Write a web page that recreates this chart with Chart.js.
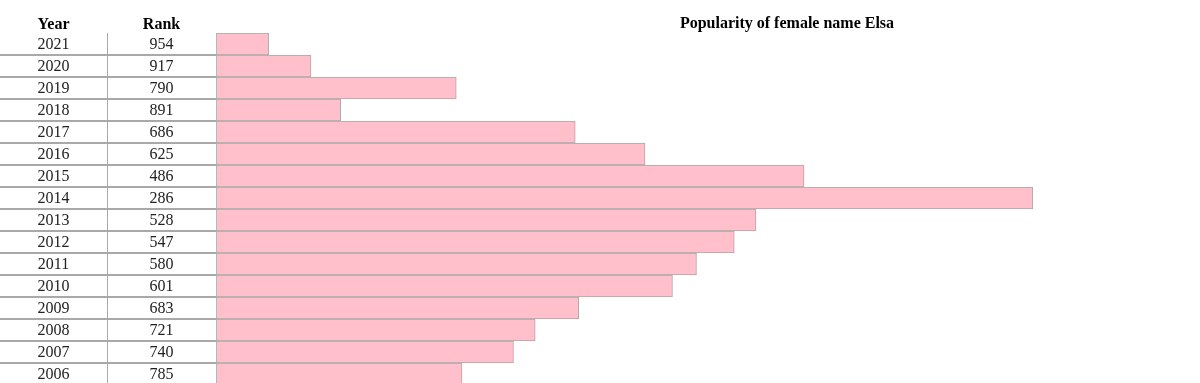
<!DOCTYPE html>
<html>
<head>
<meta charset="utf-8">
<script src="https://cdn.jsdelivr.net/npm/chart.js@4.4.1/dist/chart.umd.min.js"></script>
<style>
    html, body { margin: 0; padding: 0; background: #fff; overflow: hidden; }
    #wrap { width: 1360px; height: 392px; }
</style>
</head>
<body>
<div id="wrap"><canvas id="mainChart" width="1360" height="392"></canvas></div>
<script>
// Данные
const years = ['2021', '2020', '2019', '2018', '2017', '2016', '2015', '2014',
               '2013', '2012', '2011', '2010', '2009', '2008', '2007', '2006'];
const ranks = [954, 917, 790, 891, 686, 625, 486, 286, 528, 547, 580, 601, 683, 721, 740, 785];
const titleText = 'Popularity of female name Elsa';
const headers = ['Year', 'Rank'];

const FONT = '"Liberation Serif", "Times New Roman", serif';
const LINE = '#a9a9a9';

// Таблица слева + заголовок
const tablePlugin = {
    id: 'tableCols',
    afterDraw(chart) {
        const { ctx, chartArea } = chart;
        const yScale = chart.scales.y;
        const colSplit = 107;
        const left = chartArea.left;
        ctx.save();

        // заголовок
        ctx.fillStyle = '#000';
        ctx.textAlign = 'center';
        ctx.textBaseline = 'alphabetic';
        ctx.font = 'bold 16px ' + FONT;
        ctx.fillText(titleText, 787, 28);
        ctx.fillText(headers[0], colSplit / 2, 29);
        ctx.fillText(headers[1], (colSplit + left) / 2, 29);

        // строки
        ctx.font = '16px ' + FONT;
        years.forEach((yr, i) => {
            const y = yScale.getPixelForValue(i);
            ctx.fillStyle = '#222';
            ctx.fillText(yr, colSplit / 2, y + 5);
            ctx.fillText(String(ranks[i]), (colSplit + left) / 2, y + 5);
            ctx.fillStyle = LINE;
            ctx.fillRect(0, Math.round(y + 11) - 1, left, 2);
        });

        // вертикальная линия между колонками
        ctx.fillStyle = LINE;
        ctx.fillRect(colSplit, chartArea.top, 1, chartArea.bottom - chartArea.top);
        ctx.restore();
    }
};

new Chart(document.getElementById('mainChart').getContext('2d'), {
    type: 'bar',
    data: {
        labels: years,
        datasets: [{
            data: ranks,
            base: 1000,
            backgroundColor: '#ffc0cb',
            borderColor: LINE,
            borderWidth: 1,
            borderSkipped: false,
            categoryPercentage: 1,
            barPercentage: 1
        }]
    },
    options: {
        indexAxis: 'y',
        responsive: false,
        animation: false,
        layout: { padding: { left: 216, right: 0, top: 33, bottom: 7 } },
        plugins: { legend: { display: false }, tooltip: { enabled: false }, title: { display: false } },
        scales: {
            x: { display: false, reverse: true, min: 0, max: 1000 },
            y: { display: false }
        }
    },
    plugins: [tablePlugin]
});
</script>
</body>
</html>
